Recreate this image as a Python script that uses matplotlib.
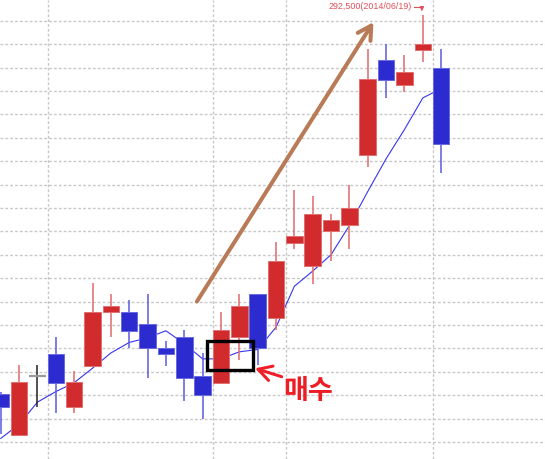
import matplotlib
matplotlib.use('Agg')
import matplotlib.pyplot as plt
from matplotlib.patches import Rectangle
import numpy as np

# ---- data (daily candles, won) ----
opens  = [130500, 113000, 138000, 147500, 125000, 142500, 165500, 165500, 160500, 150000,
          155000, 138000, 135000, 155000, 173000, 163000, 195000, 185000, 200000, 202500,
          232500, 273000, 262500, 277500, 270000]
highs  = [131500, 143000, 143000, 155000, 140500, 178000, 173000, 170500, 173000, 153000,
          158000, 148000, 165500, 173000, 173000, 195500, 217500, 215000, 207500, 220000,
          278000, 280000, 275500, 292500, 278000]
lows   = [113500, 112500, 125000, 122500, 122500, 142500, 155000, 150000, 137500, 142500,
          127500, 120000, 135000, 145000, 143000, 158000, 192500, 177500, 187500, 192500,
          227500, 257000, 259500, 272500, 225000]
closes = [125000, 135500, 138000, 135000, 135500, 165500, 168000, 157500, 150000, 147500,
          137500, 130000, 158000, 168000, 150000, 187500, 198000, 207500, 205000, 210000,
          265000, 264500, 268000, 280000, 237500]
ma5    = [111500, 117500, 127000, 131500, 135300, 141500, 148000, 152500, 154500, 157500,
          152000, 145500, 145500, 148500, 149500, 159000, 176500, 183000, 190000, 202500,
          217000, 231000, 243500, 257000, 261000]
price_grid = list(range(110000, 290001, 10000))
period_breaks = [2.55, 11.55, 15.55, 23.55]
peak_label = "292,500(2014/06/19)"
buy_label = "매수"

RED_FACE, RED_EDGE, RED_WICK = '#d22b2e', '#e07070', '#e06a6a'
BLUE_FACE, BLUE_EDGE, BLUE_WICK = '#2b2bd0', '#6a6ae0', '#5a5ade'

fig = plt.figure(figsize=(5.45, 4.59), dpi=100)
ax = fig.add_axes([0, 0, 1, 1])
ax.set_xlim(-0.041, 29.66)
ax.set_ylim(102700, 298850)
for s in ax.spines.values():
    s.set_visible(False)
ax.set_xticks(period_breaks)
ax.set_yticks(price_grid)
ax.tick_params(length=0, labelbottom=False, labelleft=False)
ax.set_axisbelow(True)
ax.grid(True, color='#c8c8c8', lw=1.0, linestyle=(0, (2, 1.5)), zorder=0)

x = np.arange(len(opens))
ax.plot(x, ma5, color='#3535f0', lw=0.8, zorder=2)

w = 0.9
for i, (o, h, l, c) in enumerate(zip(opens, highs, lows, closes)):
    if c > o:
        face, edge, wick = RED_FACE, RED_EDGE, RED_WICK
    elif c < o:
        face, edge, wick = BLUE_FACE, BLUE_EDGE, BLUE_WICK
    else:
        face, edge, wick = None, None, '#222222'
    ax.vlines(i, l, h, color=wick, lw=1.1, zorder=3)
    if face is not None:
        ax.add_patch(Rectangle((i - w / 2, min(o, c)), w, abs(c - o),
                               facecolor=face, edgecolor=edge, lw=0.7, zorder=4))
    else:
        ax.hlines(o, i - w / 2, i + w / 2, color='#9a9a9a', lw=1.6, zorder=4)

# big brown trend arrow
ax.annotate('', xy=(20.31, 289400), xytext=(10.69, 170000),
            arrowprops=dict(arrowstyle='->,head_length=0.8,head_width=0.45',
                            color='#b97a57', lw=2.9, shrinkA=0, shrinkB=0,
                            mutation_scale=12), zorder=7)

# buy box
ax.add_patch(Rectangle((11.26, 140727), 2.5, 12393, fill=False,
                       edgecolor='black', lw=2.4, zorder=6))

# red arrow + label
ax.annotate('', xy=(13.86, 141450), xytext=(15.31, 137860),
            arrowprops=dict(arrowstyle='->,head_length=0.8,head_width=0.45',
                            color='#f01e28', lw=2.2, shrinkA=0, shrinkB=0,
                            mutation_scale=12), zorder=7)
ax.text(16.74, 131750, buy_label, color='#ee1c25', fontsize=19.5, fontweight='bold',
        ha='center', va='center', family=['Noto Sans CJK KR', 'DejaVu Sans'], zorder=7)

# peak label
LBL = '#e0505a'
ax.text(22.40, 295980, peak_label, fontsize=6.4, color=LBL, family='Liberation Sans',
        ha='right', va='center', zorder=7)
ax.plot([22.52, 22.95], [295980, 295980], color=LBL, lw=0.8, zorder=7)
ax.annotate('', xy=(22.95, 294000), xytext=(22.95, 295980),
            arrowprops=dict(arrowstyle='-|>,head_length=0.25,head_width=0.12',
                            color=LBL, lw=0.8, shrinkA=0, shrinkB=0), zorder=7)

fig.savefig('out.png', dpi=100)
